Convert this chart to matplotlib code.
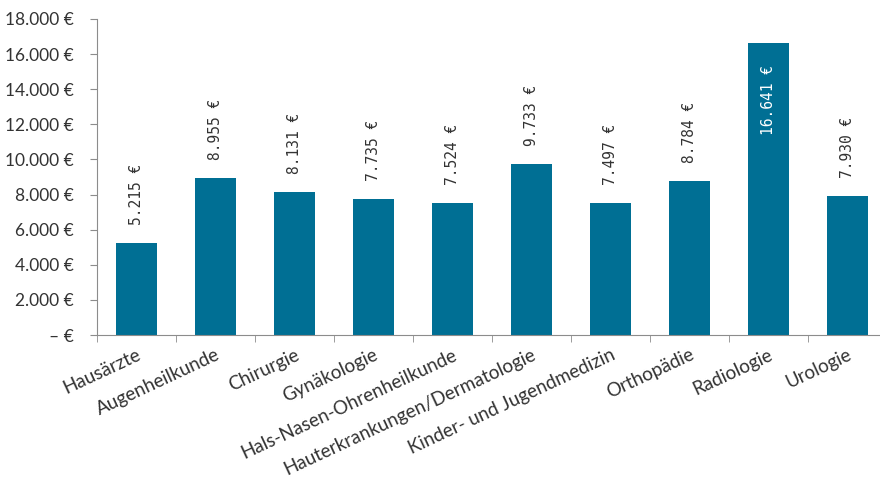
import matplotlib
matplotlib.use("Agg")
import matplotlib.pyplot as plt
import numpy as np

# Data
categories = ["Hausärzte", "Augenheilkunde", "Chirurgie", "Gynäkologie",
              "Hals-Nasen-Ohrenheilkunde", "Hauterkrankungen/Dermatologie",
              "Kinder- und Jugendmedizin", "Orthopädie", "Radiologie", "Urologie"]
values = [5215, 8955, 8131, 7735, 7524, 9733, 7497, 8784, 16641, 7930]
y_ticks = [0, 2000, 4000, 6000, 8000, 10000, 12000, 14000, 16000, 18000]


def euro(v):
    if v == 0:
        return "– €"
    return f"{v:,.0f} €".replace(",", ".")


bar_color = "#006F94"
text_color = "#333333"
axis_color = "#8c8c8c"

fig = plt.figure(figsize=(8.8, 4.86), dpi=100)
ax = fig.add_axes([97 / 880, 1 - 335 / 486, 790 / 880, (335 - 19) / 486])

x = np.arange(len(categories))
bars = ax.bar(x, values, width=0.53, color=bar_color, zorder=2)

# value labels, rotated; the tallest one sits inside the bar
for xi, v in zip(x, values):
    if v > 15000:
        ax.annotate(euro(v), (xi, v), xytext=(0, -16), textcoords="offset points",
                    rotation=90, ha="center", va="top", color="white",
                    fontsize=10.5, family="DejaVu Sans Mono")
    else:
        ax.annotate(euro(v), (xi, v), xytext=(0, 13), textcoords="offset points",
                    rotation=90, ha="center", va="bottom", color=text_color,
                    fontsize=10.5, family="DejaVu Sans Mono")

ax.set_ylim(0, 18000)
ax.set_xlim(-0.5, 9.5)
ax.set_yticks(y_ticks)
ax.set_yticklabels([euro(t) for t in y_ticks], fontsize=12.5, family="Lato", color=text_color)

ax.set_xticks(x)
ax.set_xticklabels(categories, rotation=25, ha="right", rotation_mode="anchor",
                   fontsize=13.5, family="Lato", color=text_color)
ax.tick_params(axis="x", which="major", length=0, pad=8)
ax.set_xticks(np.arange(-0.5, 10, 1), minor=True)
ax.tick_params(axis="x", which="minor", length=5, color=axis_color, direction="out")
ax.tick_params(axis="y", length=5, color=axis_color, direction="out", pad=12)

for s in ["top", "right"]:
    ax.spines[s].set_visible(False)
for s in ["left", "bottom"]:
    ax.spines[s].set_color(axis_color)

fig.savefig("out.png", dpi=100)
